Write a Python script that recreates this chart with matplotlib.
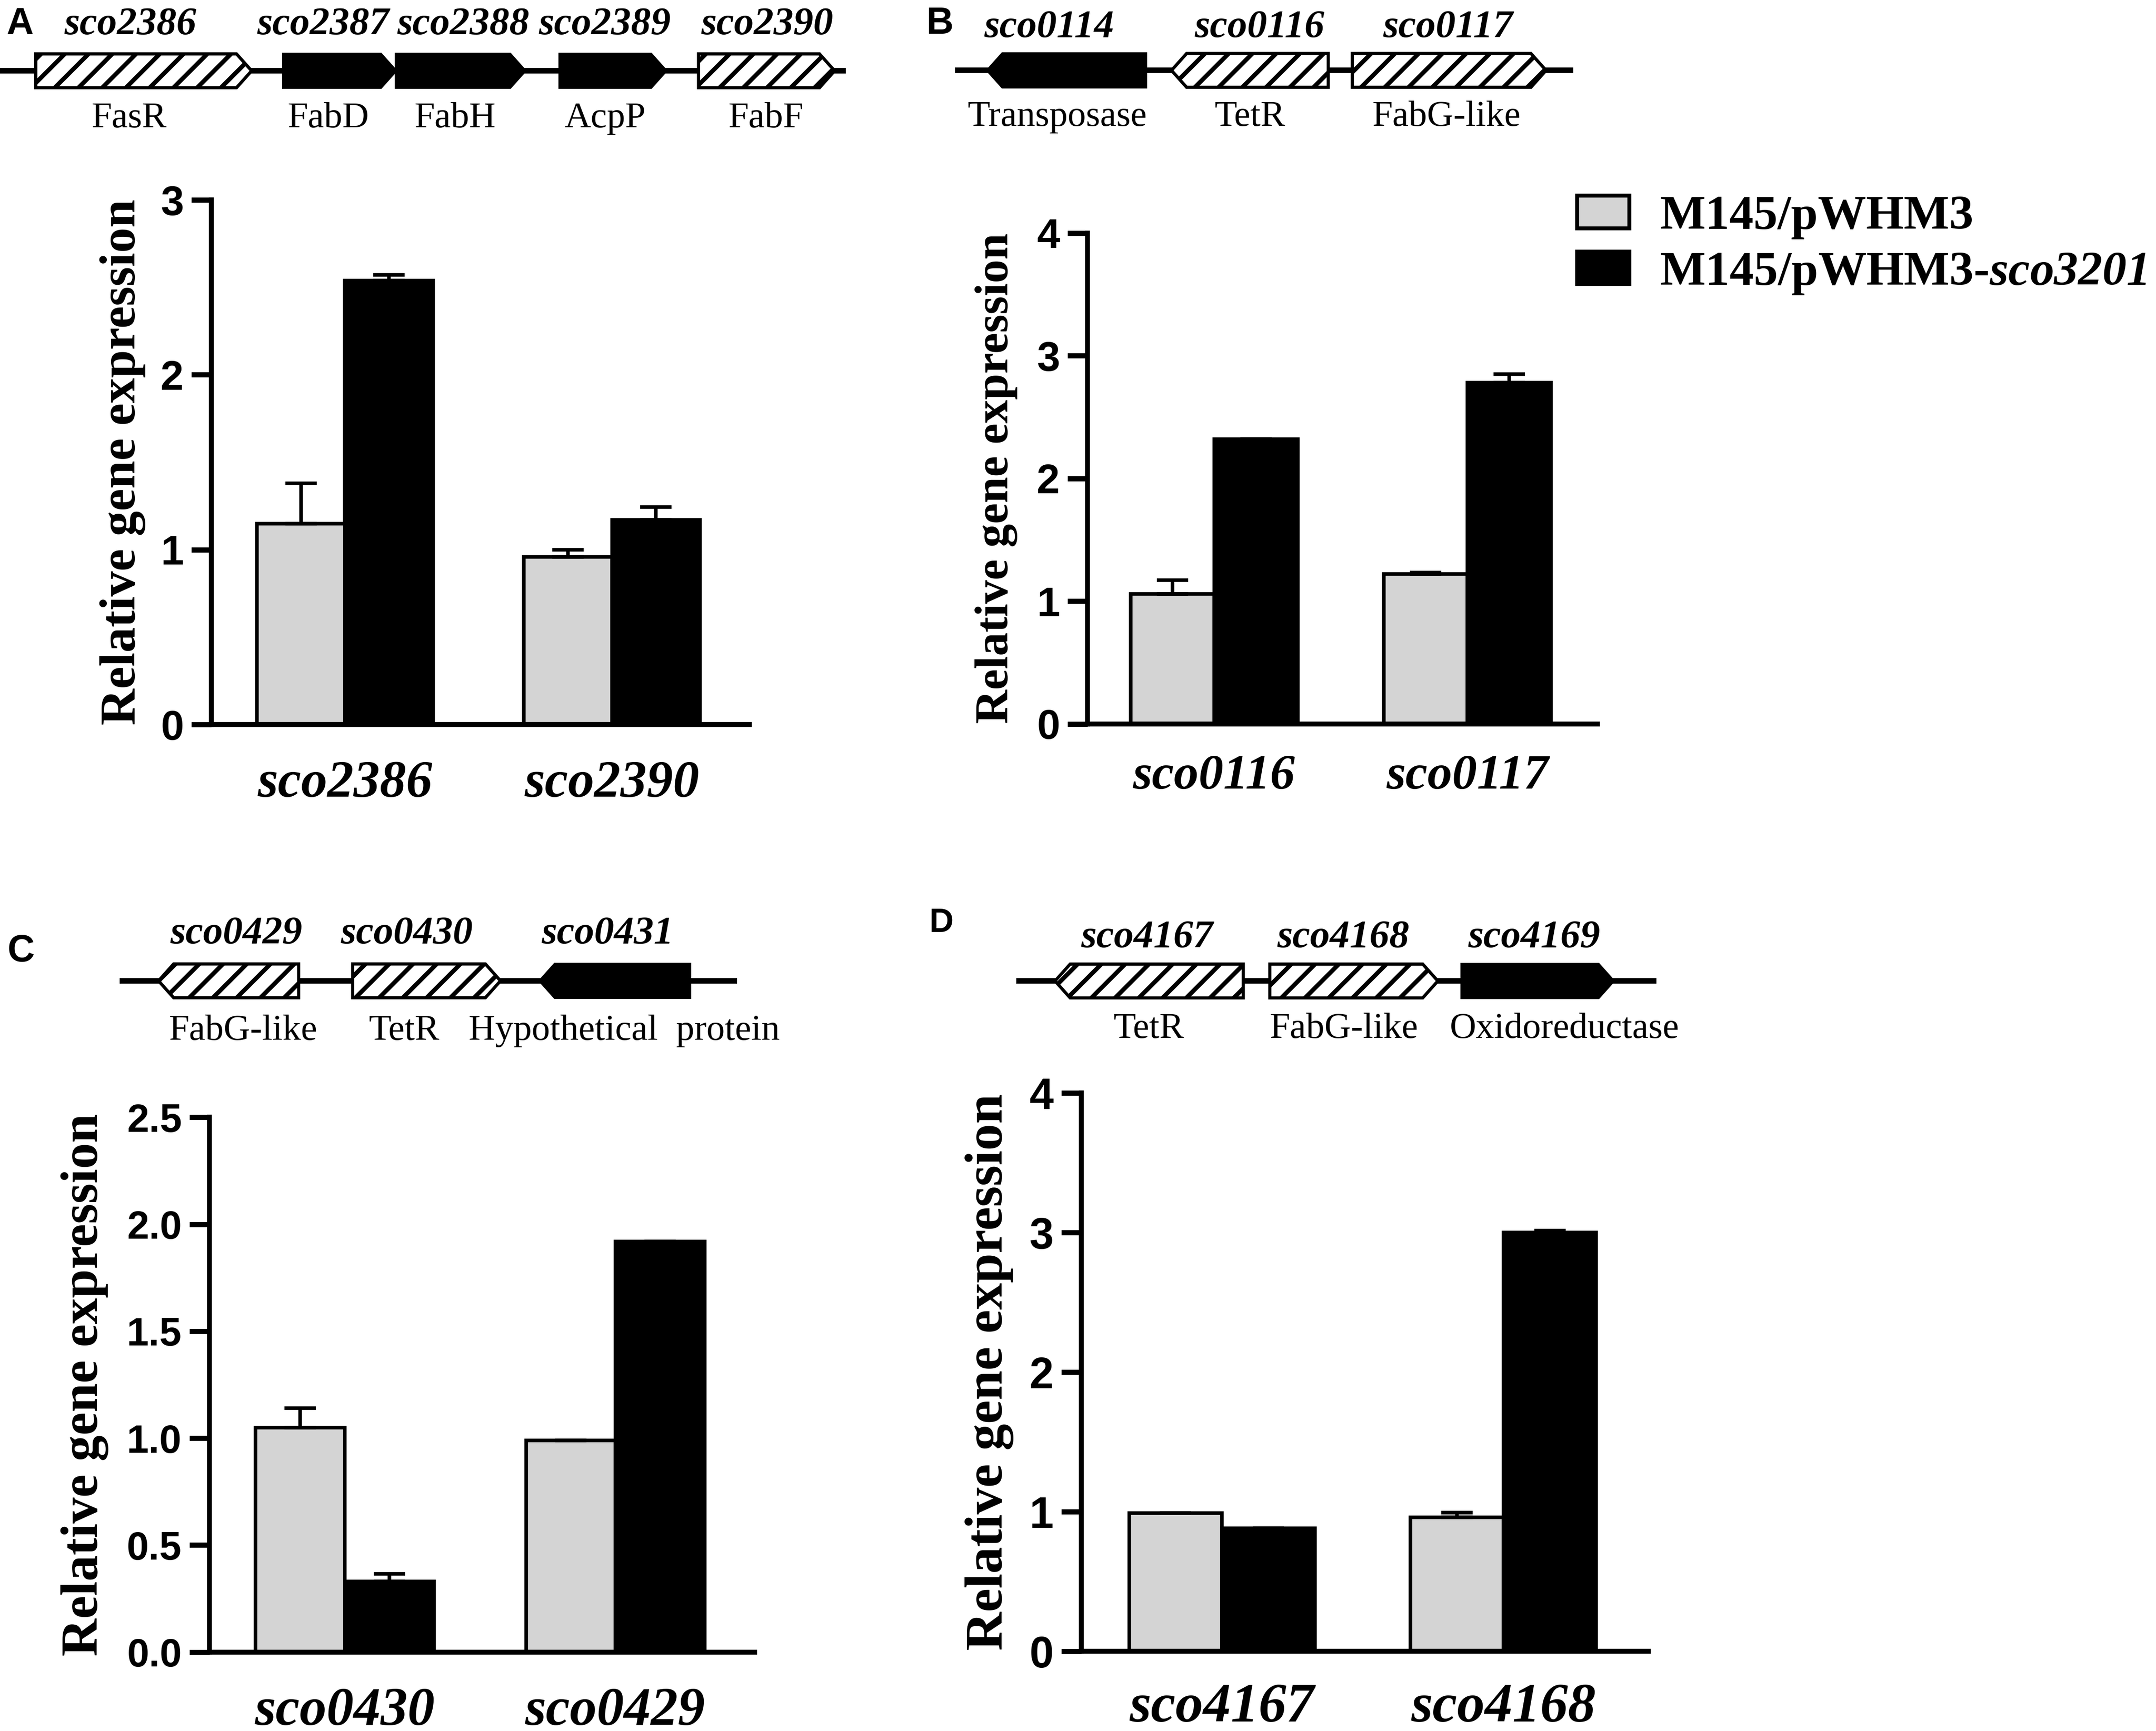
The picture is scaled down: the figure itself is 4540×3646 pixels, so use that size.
import matplotlib
matplotlib.use("Agg")
import matplotlib.pyplot as plt
import numpy as np
from matplotlib.patches import Patch, Polygon

plt.rcParams["font.family"] = "Liberation Serif"
plt.rcParams["mathtext.fontset"] = "custom"
plt.rcParams["mathtext.it"] = "Liberation Serif:italic:bold"
plt.rcParams["mathtext.rm"] = "Liberation Serif:italic:bold"
plt.rcParams["hatch.linewidth"] = 2.2

# ---- data ----
series = ["M145/pWHM3", "M145/pWHM3-$\\mathit{sco3201}$"]

genes_a = ["sco2386", "sco2390"]
ctrl_a = [1.15, 0.96]
ctrl_err_a = [0.23, 0.04]
over_a = [2.54, 1.17]
over_err_a = [0.03, 0.075]

genes_b = ["sco0116", "sco0117"]
ctrl_b = [1.06, 1.22]
ctrl_err_b = [0.11, 0.013]
over_b = [2.32, 2.78]
over_err_b = [0.0, 0.07]

genes_c = ["sco0430", "sco0429"]
ctrl_c = [1.05, 0.99]
ctrl_err_c = [0.09, 0.0]
over_c = [0.33, 1.92]
over_err_c = [0.035, 0.0]

genes_d = ["sco4167", "sco4168"]
ctrl_d = [0.99, 0.96]
ctrl_err_d = [0.0, 0.035]
over_d = [0.88, 3.0]
over_err_d = [0.0, 0.015]

# gene maps: locus tag, product, start, end, strand, solid fill
map_a = dict(tags=["sco2386", "sco2387", "sco2388", "sco2389", "sco2390"],
             prods=["FasR", "FabD", "FabH", "AcpP", "FabF"],
             start=[26, 206, 288, 407, 508], end=[183, 288, 382, 484.5, 607],
             strand=[1, 1, 1, 1, 1], solid=[False, True, True, True, False])
map_b = dict(tags=["sco0114", "sco0116", "sco0117"],
             prods=["Transposase", "TetR", "FabG-like"],
             start=[718, 852, 983.5], end=[833.4, 966, 1124.4],
             strand=[-1, -1, 1], solid=[True, False, False])
map_c = dict(tags=["sco0429", "sco0430", "sco0431"],
             prods=["FabG-like", "TetR", "Hypothetical  protein"],
             start=[115.3, 256.5, 392.5], end=[217.2, 364, 501.8],
             strand=[-1, 1, -1], solid=[False, False, True])
map_d = dict(tags=["sco4167", "sco4168", "sco4169"],
             prods=["TetR", "FabG-like", "Oxidoreductase"],
             start=[767.3, 923.5, 1063], end=[904.2, 1045.7, 1173.6],
             strand=[-1, 1, 1], solid=[False, False, True])

W, H = 1568, 1259
fig = plt.figure(figsize=(4540 / 300, 3646 / 300), dpi=300)

# overlay for the gene maps, in reference pixel units
ov = fig.add_axes([0, 0, 1, 1], zorder=-1)
ov.set_xlim(0, W)
ov.set_ylim(H, 0)
ov.axis("off")


def draw_map(m, line, yc, top_x, top_y, bot_x, bot_y):
    ov.plot(line, [yc, yc], color="black", lw=2.8, solid_capstyle="butt", zorder=1)
    h, tip = 12.3, 11
    for x0, x1, s, solid in zip(m["start"], m["end"], m["strand"], m["solid"]):
        if s > 0:
            pts = [(x0, yc - h), (x1 - tip, yc - h), (x1, yc), (x1 - tip, yc + h), (x0, yc + h)]
        else:
            pts = [(x0 + tip, yc - h), (x1, yc - h), (x1, yc + h), (x0 + tip, yc + h), (x0, yc)]
        if solid:
            p = Polygon(pts, closed=True, facecolor="black", edgecolor="black", lw=1.2, zorder=2)
        else:
            p = Polygon(pts, closed=True, facecolor="white", edgecolor="black",
                        hatch="//", lw=1.6, zorder=2)
        ov.add_patch(p)
    for t, x in zip(m["tags"], top_x):
        ov.text(x, top_y, t, ha="center", va="baseline", fontsize=20,
                fontstyle="italic", fontweight="bold")
    for t, x in zip(m["prods"], bot_x):
        ov.text(x, bot_y, t, ha="center", va="baseline", fontsize=18.5)


draw_map(map_a, [0, 615], 51.5, [95, 235, 337, 440, 558], 25,
         [94, 239, 331, 440, 557], 92.5)
draw_map(map_b, [694.7, 1144.3], 51.2, [763, 916, 1053], 27,
         [769, 909, 1052], 91.6)
draw_map(map_c, [87, 536], 713.4, [172, 296, 442], 686,
         [177, 294, 454], 756.4)
draw_map(map_d, [739.2, 1204.5], 713.5, [834.4, 977, 1115.8], 689,
         [835.6, 977.5, 1138], 755)

for letter, x, y, fs in [("A", 4.4, 24.7, 19), ("B", 673.6, 24.5, 19),
                         ("C", 5.6, 699.4, 19), ("D", 675.6, 678, 17)]:
    ov.text(x, y, letter, ha="left", va="baseline", fontsize=fs,
            fontweight="bold", family="Liberation Sans")


def px_rect(left, right, top, bottom):
    return [left / W, 1 - bottom / H, (right - left) / W, (bottom - top) / H]


def bar_panel(rect, genes, ctrl, ctrl_err, over, over_err, yticks, fmt,
              ylab_size, ylab_x, xt_size, xt_pad, yt_size):
    ax = fig.add_axes(rect)
    x = np.arange(len(genes))
    w = 0.33
    ekw = dict(ecolor="black", elinewidth=1.8, capsize=8, capthick=1.8)
    b1 = ax.bar(x - w / 2, ctrl, w, color="#d4d4d4", edgecolor="black", linewidth=1.8,
                yerr=[np.zeros(len(ctrl)), ctrl_err], error_kw=ekw)
    b2 = ax.bar(x + w / 2, over, w, color="black", edgecolor="black", linewidth=1.8,
                yerr=[np.zeros(len(over)), over_err], error_kw=ekw)
    ax.set_xlim(-0.5, 1.515)
    ax.set_ylim(0, yticks[-1])
    ax.set_yticks(yticks)
    ax.set_yticklabels([fmt.format(v) for v in yticks], family="Liberation Sans",
                       fontweight="bold", fontsize=yt_size)
    ax.set_xticks(x)
    ax.set_xticklabels(genes, fontstyle="italic", fontweight="bold", fontsize=xt_size)
    ax.tick_params(axis="x", length=0, pad=xt_pad)
    ax.tick_params(axis="y", length=10, width=2.6, pad=4)
    for s in ["top", "right"]:
        ax.spines[s].set_visible(False)
    for s in ["left", "bottom"]:
        ax.spines[s].set_linewidth(2.5)
    ax.set_ylabel("Relative gene expression", fontsize=ylab_size, fontweight="bold")
    ax.yaxis.set_label_coords(ylab_x, 0.5)
    return ax


ax_a = bar_panel(px_rect(153.8, 545, 145.4, 527), genes_a, ctrl_a, ctrl_err_a,
                 over_a, over_err_a, [0, 1, 2, 3], "{:g}", 25.5, -0.122, 26.5, 18, 21)
ax_b = bar_panel(px_rect(791, 1162, 169.5, 526.5), genes_b, ctrl_b, ctrl_err_b,
                 over_b, over_err_b, [0, 1, 2, 3, 4], "{:g}", 23.8, -0.137, 25, 15.5, 21)
ax_c = bar_panel(px_rect(152.4, 548.8, 812.6, 1201.6), genes_c, ctrl_c, ctrl_err_c,
                 over_c, over_err_c, [0, 0.5, 1.0, 1.5, 2.0, 2.5], "{:.1f}", 26.3, -0.185,
                 27.3, 17.5, 20)
ax_d = bar_panel(px_rect(786.4, 1198.8, 795, 1201), genes_d, ctrl_d, ctrl_err_d,
                 over_d, over_err_d, [0, 1, 2, 3, 4], "{:g}", 27, -0.119, 28, 16, 22)

handles = [Patch(facecolor="#d4d4d4", edgecolor="black", linewidth=2),
           Patch(facecolor="black", edgecolor="black", linewidth=2)]
fig.legend(handles, series, loc="upper left", bbox_to_anchor=(1147 / W, 1 - 142 / H),
           frameon=False, borderpad=0, borderaxespad=0, handlelength=1.08,
           handleheight=0.66, handletextpad=0.63, labelspacing=0.24,
           prop=dict(family="Liberation Serif", weight="bold", size=24.4))

fig.savefig("out.png", dpi=300)
